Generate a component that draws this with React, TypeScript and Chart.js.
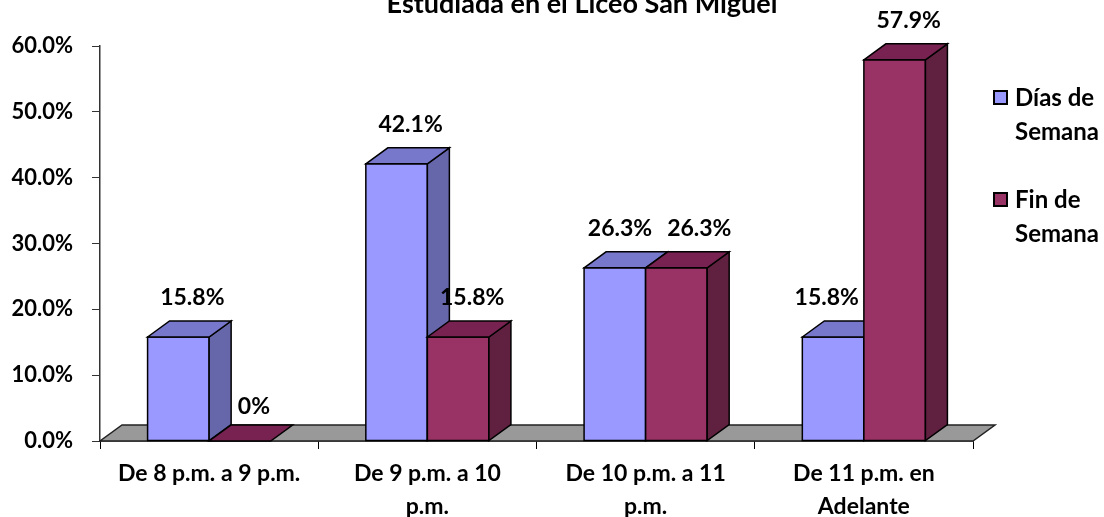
import React, { useEffect, useRef } from "react";
import { Chart, registerables } from "chart.js";

Chart.register(...registerables);

const titleText = "Estudiada en el Liceo San Miguel";
const categories: string[][] = [
  ["De 8 p.m. a 9 p.m."],
  ["De 9 p.m. a 10", "p.m."],
  ["De 10 p.m. a 11", "p.m."],
  ["De 11 p.m. en", "Adelante"],
];
const seriesNames: string[][] = [
  ["Días de", "Semana"],
  ["Fin de", "Semana"],
];
const diasSemana = [15.8, 42.1, 26.3, 15.8];
const finSemana = [0, 15.8, 26.3, 57.9];
const yTickMin = 0;
const yTickMax = 60;
const yTickStep = 10;

const FONT = 'Lato, "Noto Sans", sans-serif';
const faces = [
  { front: "#9999FF", top: "#7777CC", side: "#6666AA" },
  { front: "#993366", top: "#772250", side: "#602040" },
];
const DX = 22;
const DY = -16;

const fmt = (v: number) => (v === 0 ? "0%" : v.toFixed(1) + "%");

const poly = (ctx: CanvasRenderingContext2D, pts: number[][], fill: string, stroke = "#000") => {
  ctx.beginPath();
  ctx.moveTo(pts[0][0], pts[0][1]);
  for (let i = 1; i < pts.length; i++) ctx.lineTo(pts[i][0], pts[i][1]);
  ctx.closePath();
  ctx.fillStyle = fill;
  ctx.fill();
  ctx.strokeStyle = stroke;
  ctx.lineWidth = 1.5;
  ctx.stroke();
};

const bars3d = {
  id: "bars3d",
  beforeDatasetsDraw(chart: any) {
    const ctx: CanvasRenderingContext2D = chart.ctx;
    const area = chart.chartArea;
    ctx.save();
    // floor
    poly(
      ctx,
      [
        [area.left, area.bottom],
        [area.right, area.bottom],
        [area.right + DX, area.bottom + DY],
        [area.left + DX, area.bottom + DY],
      ],
      "#999999",
      "#222"
    );
    const n = chart.data.labels.length;
    const metas = chart.data.datasets.map((_: any, i: number) => chart.getDatasetMeta(i));
    for (let i = 0; i < n; i++) {
      metas.forEach((meta: any, d: number) => {
        const el = meta.data[i];
        const { x, y, base, width } = el.getProps(["x", "y", "base", "width"], true);
        const l = x - width / 2;
        const r = x + width / 2;
        const f = faces[d];
        if (base - y > 0.5) {
          poly(ctx, [[l, y], [r, y], [r, base], [l, base]], f.front);
          poly(ctx, [[r, y], [r + DX, y + DY], [r + DX, base + DY], [r, base]], f.side);
        }
        poly(ctx, [[l, y], [l + DX, y + DY], [r + DX, y + DY], [r, y]], f.top);
      });
    }
    // value labels with simple collision avoidance inside each category
    ctx.fillStyle = "#000";
    ctx.font = `bold 23px ${FONT}`;
    ctx.textAlign = "center";
    ctx.textBaseline = "middle";
    for (let i = 0; i < n; i++) {
      const labs = metas.map((meta: any, d: number) => {
        const el = meta.data[i];
        const { x, y } = el.getProps(["x", "y"], true);
        const v = chart.data.datasets[d].data[i];
        const text = fmt(v);
        return { text, cx: x + 14, cy: y - (v === 0 ? 34 : 39), w: ctx.measureText(text).width };
      });
      // keep clear of a taller bar standing to the right
      labs.forEach((lb: any, d: number) => {
        for (let e = d + 1; e < metas.length; e++) {
          const el = metas[e].data[i];
          const { x, y, width } = el.getProps(["x", "y", "width"], true);
          const bl = x - width / 2;
          if (y + DY < lb.cy + 12 && lb.cx + lb.w / 2 > bl - 5) {
            lb.cx = bl - 5 - lb.w / 2;
          }
        }
      });
      for (let k = 0; k + 1 < labs.length; k++) {
        const a = labs[k];
        const b = labs[k + 1];
        if (Math.abs(a.cy - b.cy) < 24) {
          const need = (a.w + b.w) / 2 + 15 - (b.cx - a.cx);
          if (need > 0) {
            a.cx -= need / 2;
            b.cx += need / 2;
          }
        }
      }
      labs.forEach((lb: any) => ctx.fillText(lb.text, lb.cx, lb.cy));
    }
    ctx.restore();
    return false;
  },
  afterDraw(chart: any) {
    const ctx: CanvasRenderingContext2D = chart.ctx;
    ctx.save();
    // title (partially cut at top as in the reference)
    ctx.fillStyle = "#000";
    ctx.font = `bold 27px ${FONT}`;
    ctx.textAlign = "center";
    ctx.textBaseline = "alphabetic";
    ctx.fillText(titleText, 582, 13);
    // legend
    ctx.font = `bold 24px ${FONT}`;
    ctx.textAlign = "left";
    ctx.textBaseline = "middle";
    const tops = [98, 200];
    chart.data.datasets.forEach((ds: any, d: number) => {
      const y0 = tops[d];
      ctx.fillStyle = faces[d].front;
      ctx.fillRect(994, y0 - 7, 13, 13);
      ctx.strokeStyle = "#000";
      ctx.lineWidth = 2;
      ctx.strokeRect(994, y0 - 7, 13, 13);
      ctx.fillStyle = "#000";
      seriesNames[d].forEach((line, k) => ctx.fillText(line, 1015, y0 + k * 34));
    });
    ctx.restore();
  },
};

export default function App() {
  const ref = useRef<HTMLCanvasElement>(null);
  useEffect(() => {
    if (!ref.current) return;
    Chart.defaults.font.family = FONT;
    const chart = new Chart(ref.current, {
      type: "bar",
      data: {
        labels: categories,
        datasets: [
          {
            label: seriesNames[0].join(" "),
            data: diasSemana,
            backgroundColor: faces[0].front,
            borderColor: "#000",
            categoryPercentage: 0.564,
            barPercentage: 1,
          },
          {
            label: seriesNames[1].join(" "),
            data: finSemana,
            backgroundColor: faces[1].front,
            borderColor: "#000",
            categoryPercentage: 0.564,
            barPercentage: 1,
          },
        ],
      },
      options: {
        responsive: false,
        animation: false,
        devicePixelRatio: 1,
        layout: { padding: { top: 46, right: 131, left: 0, bottom: 0 } },
        plugins: {
          legend: { display: false },
          title: { display: false },
          tooltip: { enabled: false },
        },
        scales: {
          x: {
            grid: { offset: true, drawOnChartArea: false, tickLength: 8, color: "#000" },
            border: { color: "#000", width: 1.5 },
            ticks: {
              color: "#000",
              font: { size: 23, weight: "bold", lineHeight: "33px" },
              padding: 8,
              maxRotation: 0,
              autoSkip: false,
            },
            afterFit: (s: any) => {
              s.height = 76;
            },
          },
          y: {
            min: yTickMin,
            max: yTickMax,
            grid: { drawOnChartArea: false, tickLength: 8, color: "#333" },
            border: { color: "#333", width: 1.5 },
            ticks: {
              stepSize: yTickStep,
              color: "#000",
              font: { size: 22, weight: "bold" },
              padding: 19,
              callback: (v: any) => Number(v).toFixed(1) + "%",
            },
            afterFit: (s: any) => {
              s.width = 100;
            },
          },
        },
      },
      plugins: [bars3d],
    });
    return () => chart.destroy();
  }, []);
  return (
    <div style={{ position: "fixed", left: 0, top: 0, width: 1104, height: 517, background: "#fff" }}>
      <canvas ref={ref} width={1104} height={517} />
    </div>
  );
}
